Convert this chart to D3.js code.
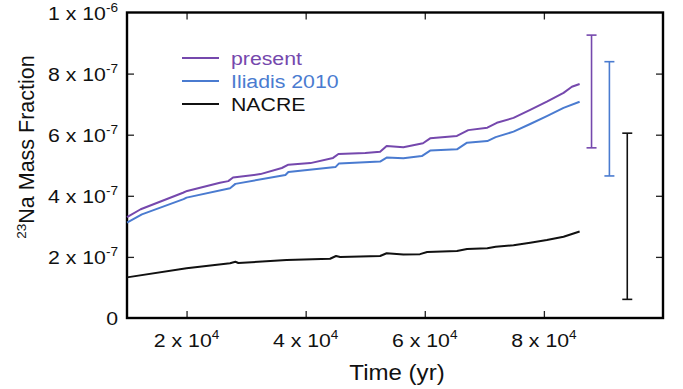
<!DOCTYPE html>
<html>
<head>
<meta charset="utf-8">
<script src="https://cdn.jsdelivr.net/npm/d3@7"></script>
<style>
  html, body { margin: 0; padding: 0; background: #fff; }
  svg { display: block; font-family: "Liberation Sans", Arial, sans-serif; }
</style>
</head>
<body>
<div id="chart"></div>
<script>
// time in years, mass fraction
const time = [10000, 12300, 19400, 20100, 25600, 27000, 27800, 32400, 36000, 37100, 40800, 44600, 45500,
  50000, 52500, 53600, 56400, 59700, 60900, 65400, 67300, 70500, 72100, 74900, 77700, 80500, 83300, 84700, 86000];
const present = [3.30, 3.56, 4.10, 4.16, 4.43, 4.48, 4.60, 4.71, 4.91, 5.02, 5.07, 5.24, 5.37,
  5.40, 5.44, 5.63, 5.59, 5.72, 5.88, 5.96, 6.15, 6.23, 6.39, 6.55, 6.81, 7.08, 7.37, 7.57, 7.66];

const timeIliadis = [10000, 12500, 19500, 20000, 27300, 28200, 36600, 37100, 45000, 45600, 52500, 53600,
  56400, 59500, 60900, 65400, 67100, 70500, 71900, 74900, 77700, 80500, 83300, 86000];
const iliadis = [3.12, 3.39, 3.89, 3.94, 4.25, 4.39, 4.68, 4.78, 4.94, 5.06, 5.12, 5.25,
  5.23, 5.30, 5.48, 5.52, 5.74, 5.79, 5.92, 6.10, 6.35, 6.61, 6.88, 7.08];

const timeNacre = [10000, 20000, 27300, 28200, 28700, 36800, 44100, 45100, 45800, 52500, 53600, 56400,
  59200, 60400, 65400, 67100, 70500, 71900, 74900, 77700, 80500, 83300, 86000];
const nacre = [1.33, 1.63, 1.79, 1.84, 1.80, 1.90, 1.94, 2.03, 2.00, 2.03, 2.12, 2.08,
  2.09, 2.16, 2.19, 2.26, 2.28, 2.33, 2.38, 2.46, 2.55, 2.66, 2.83];

// error bars at end of run (units of 1e-7)
const errTime = [88000, 91000, 94000];
const errLow = [5.57, 4.65, 0.61];
const errHigh = [9.26, 8.39, 6.05];

const seriesNames = ["present", "Iliadis 2010", "NACRE"];
const seriesColors = ["#7548ad", "#4a7bd0", "#111111"];

const xTicks = [20000, 40000, 60000, 80000];
const xTickBase = ["2 x 10", "4 x 10", "6 x 10", "8 x 10"];
const xTickExp = ["4", "4", "4", "4"];
const yTicks = [0, 2, 4, 6, 8, 10];
const yTickBase = ["0", "2 x 10", "4 x 10", "6 x 10", "8 x 10", "1 x 10"];
const yTickExp = ["", "-7", "-7", "-7", "-7", "-6"];

const W = 683, H = 389;
const plotL = 127, plotR = 663, plotT = 12.5, plotB = 318;
const SX = 1.12;

const svg = d3.select("#chart").append("svg")
  .attr("width", W).attr("height", H);

const x = d3.scaleLinear().domain([10000, 100000]).range([plotL, plotR]);
const y = d3.scaleLinear().domain([0, 10]).range([plotB, plotT]);

// ticks on all four sides, pointing inward
const tickLen = 7;
svg.append("g").attr("transform", `translate(0,${plotB})`)
  .call(d3.axisBottom(x).tickValues(xTicks).tickSize(-tickLen).tickFormat(""));
svg.append("g").attr("transform", `translate(0,${plotT})`)
  .call(d3.axisTop(x).tickValues(xTicks).tickSize(-tickLen).tickFormat(""));
svg.append("g").attr("transform", `translate(${plotL},0)`)
  .call(d3.axisLeft(y).tickValues(yTicks.slice(1, 5)).tickSize(-tickLen).tickFormat(""));
svg.append("g").attr("transform", `translate(${plotR},0)`)
  .call(d3.axisRight(y).tickValues(yTicks.slice(1, 5)).tickSize(-tickLen).tickFormat(""));
svg.selectAll(".domain").remove();
svg.selectAll(".tick line").attr("stroke", "#222").attr("stroke-width", 1.3);

// frame
svg.append("rect")
  .attr("x", plotL).attr("y", plotT)
  .attr("width", plotR - plotL).attr("height", plotB - plotT)
  .attr("fill", "none").attr("stroke", "#000").attr("stroke-width", 2.4);

function label(px, py, base, exp, anchor, size) {
  const t = svg.append("text")
    .attr("transform", `translate(${px},${py}) scale(${SX},1)`)
    .attr("text-anchor", anchor)
    .attr("font-size", size)
    .attr("fill", "#111");
  t.append("tspan").text(base);
  if (exp) t.append("tspan").attr("font-size", size * 0.64).attr("dy", -size * 0.42).text(exp);
  return t;
}

// tick labels
yTicks.forEach((v, i) => label(118, y(v) + 7, yTickBase[i], yTickExp[i], "end", 19));
xTicks.forEach((v, i) => label(x(v), 347, xTickBase[i], xTickExp[i], "middle", 19));

// axis titles
label(397, 380, "Time (yr)", "", "middle", 21.5);
const yt = svg.append("text")
  .attr("transform", `translate(34,147) rotate(-90)`)
  .attr("text-anchor", "middle")
  .attr("font-size", 21.5)
  .attr("fill", "#111");
yt.append("tspan").attr("font-size", 13.5).attr("dy", -8).text("23");
yt.append("tspan").attr("dy", 8).text("Na Mass Fraction");

// lines
const line = d3.line().x(d => x(d[0])).y(d => y(d[1]));
const seriesData = [
  d3.zip(time, present),
  d3.zip(timeIliadis, iliadis),
  d3.zip(timeNacre, nacre)
];
seriesData.forEach((d, i) => {
  svg.append("path").datum(d)
    .attr("fill", "none")
    .attr("stroke", seriesColors[i])
    .attr("stroke-width", 2)
    .attr("stroke-linejoin", "round")
    .attr("d", line);
});

// error bars
const cap = 5;
errTime.forEach((t, i) => {
  const g = svg.append("g").attr("stroke", seriesColors[i]).attr("stroke-width", 1.6);
  g.append("line").attr("x1", x(t)).attr("x2", x(t)).attr("y1", y(errLow[i])).attr("y2", y(errHigh[i]));
  g.append("line").attr("x1", x(t) - cap).attr("x2", x(t) + cap).attr("y1", y(errLow[i])).attr("y2", y(errLow[i]));
  g.append("line").attr("x1", x(t) - cap).attr("x2", x(t) + cap).attr("y1", y(errHigh[i])).attr("y2", y(errHigh[i]));
});

// legend
seriesNames.forEach((name, i) => {
  const ly = 58 + i * 23;
  svg.append("line").attr("x1", 182).attr("x2", 219).attr("y1", ly).attr("y2", ly)
    .attr("stroke", seriesColors[i]).attr("stroke-width", 2);
  label(231, ly + 7, name, "", "start", 19).attr("fill", seriesColors[i]);
});
</script>
</body>
</html>
